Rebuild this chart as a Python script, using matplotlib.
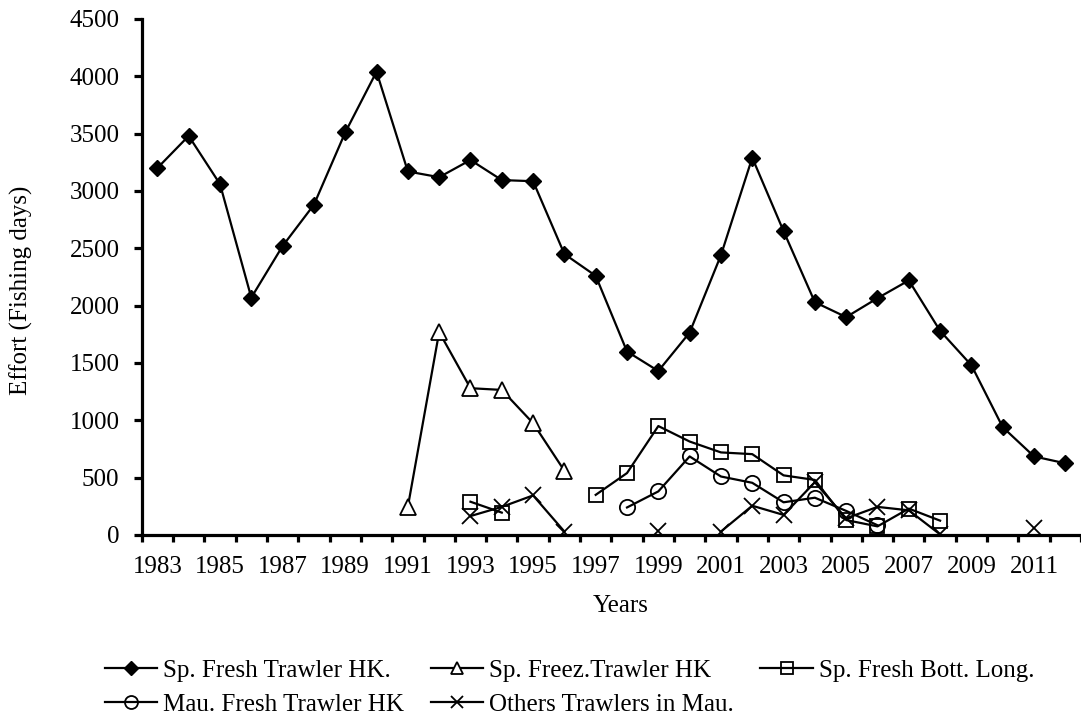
import numpy as np
import matplotlib
matplotlib.use("Agg")
import matplotlib.pyplot as plt
from matplotlib.ticker import FixedLocator, NullFormatter

plt.rcParams['font.family'] = ['Liberation Serif', 'DejaVu Serif']

years = list(range(1983, 2013))

fresh_trawler_hk = [3200, 3480, 3060, 2070, 2520, 2880, 3510, 4040, 3170, 3120,
                    3270, 3095, 3085, 2450, 2260, 1600, 1430, 1765, 2440, 3290,
                    2650, 2030, 1900, 2065, 2220, 1780, 1480, 940, 685, 625]

freez_years = [1991, 1992, 1993, 1994, 1995, 1996]
freez_trawler_hk = [245, 1770, 1280, 1265, 975, 560]

bott_years = [1993, 1994, 1995, 1996, 1997, 1998, 1999, 2000, 2001, 2002,
              2003, 2004, 2005, 2006, 2007, 2008]
bott_long = [290, 195, None, None, 350, 540, 950, 815, 720, 705,
             520, 480, 130, 75, 230, 125]

mau_years = [1998, 1999, 2000, 2001, 2002, 2003, 2004, 2005, 2006]
mau_fresh_hk = [240, 380, 685, 510, 455, 285, 325, 210, 85]

others_years = [1993, 1994, 1995, 1996, 1997, 1998, 1999, 2000, 2001, 2002,
                2003, 2004, 2005, 2006, 2007, 2008, 2009, 2010, 2011]
others_mau = [165, 245, 345, 30, None, None, 35, None, 30, 255,
              175, 460, 145, 245, 215, 5, None, None, 60]

labels = ["Sp. Fresh Trawler HK.", "Sp. Freez.Trawler HK", "Sp. Fresh Bott. Long.",
          "Mau. Fresh Trawler HK", "Others Trawlers in Mau."]


def arr(v):
    return np.array([np.nan if x is None else x for x in v], dtype=float)


fig = plt.figure(figsize=(10.81, 7.18), dpi=100)
ax = fig.add_axes([0.1311, 0.2549, 0.8689, 0.7187])

lw = 1.6
mew = 1.3
h1, = ax.plot(years, fresh_trawler_hk, color='black', lw=lw, marker='D', ms=8.5,
              mfc='black', mec='black', mew=1, label=labels[0])
h2, = ax.plot(freez_years, freez_trawler_hk, color='black', lw=lw, marker='^', ms=11,
              mfc='white', mec='black', mew=mew, label=labels[1])
h3, = ax.plot(bott_years, arr(bott_long), color='black', lw=lw, marker='s', ms=10.5,
              mfc='none', mec='black', mew=mew, label=labels[2])
h4, = ax.plot(mau_years, mau_fresh_hk, color='black', lw=lw, marker='o', ms=11,
              mfc='none', mec='black', mew=mew, label=labels[3])
h5, = ax.plot(others_years, arr(others_mau), color='black', lw=lw, marker='x', ms=11,
              mec='black', mew=mew, label=labels[4])

ax.set_xlim(1982.5, 2012.5)
ax.set_ylim(0, 4500)

for s in ['top', 'right']:
    ax.spines[s].set_visible(False)
for s in ['left', 'bottom']:
    ax.spines[s].set_linewidth(2.3)
    ax.spines[s].set_color('black')

ax.set_yticks(np.arange(0, 4501, 500))
ax.tick_params(axis='y', which='major', length=6, width=2.3, direction='out',
               labelsize=18, pad=10)

ax.set_xticks(years[::2])
ax.set_xticklabels([str(y) for y in years[::2]])
ax.xaxis.set_minor_locator(FixedLocator(np.arange(1982.5, 2013, 1.0)))
ax.xaxis.set_minor_formatter(NullFormatter())
ax.tick_params(axis='x', which='major', length=0, labelsize=18, pad=15)
ax.tick_params(axis='x', which='minor', length=5, width=2.3, direction='out')

ax.set_xlabel("Years", fontsize=18)
ax.xaxis.set_label_coords(0.51, -0.116)
ax.set_ylabel("Effort (Fishing days)", fontsize=18)
ax.yaxis.set_label_coords(-0.1157, 0.475)

leg = fig.legend([h1, h4, h2, h5, h3],
                 [labels[0], labels[3], labels[1], labels[4], labels[2]],
                 ncol=3, loc='center', bbox_to_anchor=(0.527, 0.042),
                 frameon=False, fontsize=18, handlelength=2.1, handletextpad=0.25,
                 columnspacing=1.05, labelspacing=0.45, borderpad=0, markerscale=0.85)

fig.savefig("out.png", dpi=100)
